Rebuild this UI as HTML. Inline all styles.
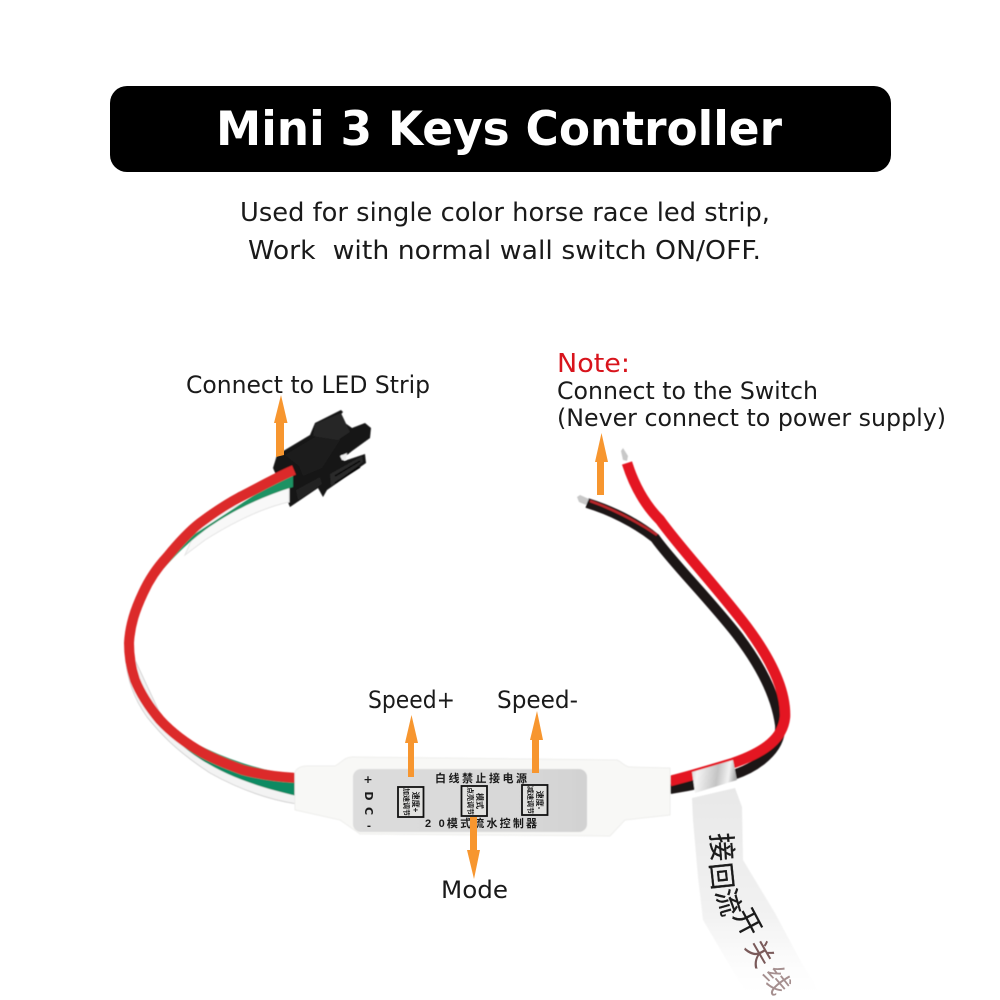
<!DOCTYPE html>
<html><head><meta charset="utf-8"><style>
html,body{margin:0;padding:0;background:#fff}
svg{display:block}
text{font-family:"DejaVu Sans","Liberation Sans",sans-serif;fill:#1a1a1a}
.cjk{font-family:"Liberation Sans","Noto Sans CJK SC",sans-serif}
</style></head><body>
<svg width="1000" height="1000" viewBox="0 0 1000 1000" xmlns="http://www.w3.org/2000/svg">
<defs>
<linearGradient id="band" x1="0" y1="0" x2="1" y2="0.1"><stop offset="0" stop-color="#d0d0d0"/><stop offset=".15" stop-color="#f4f4f4"/><stop offset=".6" stop-color="#c4c4c4"/><stop offset=".85" stop-color="#f2f2f2"/><stop offset="1" stop-color="#aaa"/></linearGradient>
<linearGradient id="tag" x1="0" y1="0" x2="0" y2="1"><stop offset="0" stop-color="#e8e8e8"/><stop offset=".6" stop-color="#f2f2f2"/><stop offset=".85" stop-color="#fdfdfd"/><stop offset="1" stop-color="#fff"/></linearGradient>
<linearGradient id="label" x1="0" y1="0" x2="1" y2="0"><stop offset="0" stop-color="#dcdcdc"/><stop offset=".7" stop-color="#d8d8d8"/><stop offset="1" stop-color="#d2d2d2"/></linearGradient>
<filter id="soft" x="-5%" y="-5%" width="110%" height="110%"><feGaussianBlur stdDeviation="0.5"/></filter>
</defs>
<rect width="1000" height="1000" fill="#fff"/>

<rect x="110" y="86" width="781" height="86" rx="17" fill="#000"/>
<text x="216" y="145" font-size="47" font-weight="700" style="fill:#fff" textLength="566" lengthAdjust="spacingAndGlyphs">Mini 3 Keys Controller</text>
<text x="240" y="221" font-size="26" textLength="530" lengthAdjust="spacingAndGlyphs">Used for single color horse race led strip,</text>
<text x="248" y="259" font-size="26" textLength="513" lengthAdjust="spacingAndGlyphs" xml:space="preserve">Work  with normal wall switch ON/OFF.</text>

<text x="186" y="393" font-size="24" textLength="244" lengthAdjust="spacingAndGlyphs">Connect to LED Strip</text>
<text x="557" y="372" font-size="26" style="fill:#d8141c" textLength="73" lengthAdjust="spacingAndGlyphs">Note:</text>
<text x="557" y="399" font-size="24" textLength="261" lengthAdjust="spacingAndGlyphs">Connect to the Switch</text>
<text x="557" y="426" font-size="24" textLength="389" lengthAdjust="spacingAndGlyphs">(Never connect to power supply)</text>
<text x="368" y="708" font-size="24" textLength="87" lengthAdjust="spacingAndGlyphs">Speed+</text>
<text x="497" y="708" font-size="24" textLength="81" lengthAdjust="spacingAndGlyphs">Speed-</text>
<text x="441" y="898" font-size="24" textLength="67" lengthAdjust="spacingAndGlyphs">Mode</text>

<g filter="url(#soft)">
<!-- connector -->
<path d="M277,455 L285,450 L310,435 L315,423 L341,410 L343,412 L338,418 L352,428 L365,423 L371,428 L370,438 L352,451 L347,455 L341,455 L344,461 L365,454 L366,463 L327,490 L323,497 L318,488 L290,507 L273,468 Z" fill="#121212"/>
<path d="M285,455 L310,440 L338,424 L340,440 L322,468 L303,476 L299,466Z" fill="#1f1f1f"/>
<path d="M315,424 L341,413 L350,432 L338,440 L313,436Z" fill="#262626"/>
<path d="M330,474 L362,456 L363,462 L331,486Z" fill="#2b2b2b"/>
<path d="M296,490 L320,477 L322,484 L298,500Z" fill="#232323"/>
<path d="M335,476 L360,461 M335,483 L360,467" stroke="#050505" stroke-width="1.600" fill="none"/>
<path d="M340,456 L347,453 L346,460 L342,460Z" fill="#f0f0f0"/>

<!-- left wires -->
<path d="M125,650 C126,680 135,700 147,717 C160,733 175,750 210,773 C235,787 265,799 297,804 L297,790 L170,735 L135,660Z" fill="#f3f3f3" stroke="#d4d4d4" stroke-width="1"/>
<path d="M289,485 L289,502 C262,508 232,523 205,540 L185,555 L200,520Z" fill="#f8f8f8" stroke="#e4e4e4" stroke-width="1"/>
<path d="M293,487 C260,497 230,512 205,530 C185,545 170,560 150,585 L170,550 L293,470Z" fill="#1c9263"/>
<path d="M160,722 C185,755 225,780 297,796 L297,775 C250,770 200,750 160,722Z" fill="#108a62"/>
<path d="M294,470 C275,478 258,488 240,497 C225,505 212,514 200,523 C187,533 176,546 167,557 C155,570 148,582 143,593 C135,610 130,625 129,643 C129,655 131,668 135,680 C141,695 150,708 160,720 C172,733 187,744 203,753 C216,760 229,765 243,770 C258,774 275,777 297,778" fill="none" stroke="#dc2b2b" stroke-width="10"/>

<!-- right wires -->
<path d="M587,503 C610,510 635,522 655,538 C672,562 710,600 738,636 C760,665 776,695 780,725 C782,750 755,768 733,775 C710,782 690,786 670,789" fill="none" stroke="#1c1416" stroke-width="10"/>
<path d="M590,501 C610,508 635,520 657,535" stroke="#b8262c" stroke-width="2.500" fill="none"/>
<path d="M627,463 C634,485 645,505 660,520 C680,548 715,585 747,627 C770,658 786,690 785,717 C783,738 765,752 733,763 C710,770 690,776 670,781" fill="none" stroke="#e41820" stroke-width="10.500"/>
<path d="M577,497 L580,495 L589,499 L586,505 L579,502Z" fill="#c8c8c8"/>
<path d="M621,451 L623,448 L628,456 L627,461 L623,460Z" fill="#c8c8c8"/>

<!-- tag -->
<path d="M692,798 L735,788 L742,807 L743,860 L775,913 L800,960 L825,1000 L750,1000 L703,920 L698,877 L693,820Z" fill="url(#tag)"/>
<!-- metal band -->
<path d="M692,772 L733,760 L737,780 L695,793Z" fill="url(#band)"/>

<!-- controller body -->
<path d="M295,772 Q298,766 307,766 L335,766 C342,762 345,757 352,757 L617,760 C622,762 625,767 630,767 L670,768 L670,815 L625,820 L610,836 L360,834 L340,820 L295,810Z" fill="#f8f8f6" stroke="#eeeeec" stroke-width="1"/>
<rect x="353" y="769" width="234" height="63" rx="8" fill="url(#label)"/>
</g>

<g>
<text class="cjk" x="481" y="782" font-size="11" font-weight="700" text-anchor="middle" textLength="92">白线禁止接电源</text>
<text class="cjk" x="481" y="827" font-size="11" font-weight="700" text-anchor="middle" textLength="112">2 0模式流水控制器</text>
<text x="368" y="783" font-size="11" font-weight="700" text-anchor="middle">+</text>
<text x="369" y="796" font-size="11" font-weight="700" text-anchor="middle" transform="rotate(90 369 796)" dy="4">D</text>
<text x="369" y="811" font-size="11" font-weight="700" text-anchor="middle" transform="rotate(90 369 811)" dy="4">C</text>
<text x="369" y="829" font-size="10" font-weight="700" text-anchor="middle">-</text>
</g>
<g fill="#e2e2e0" stroke="#111" stroke-width="1.800">
<rect x="398" y="787" width="25.500" height="30"/>
<rect x="461.500" y="786" width="25.500" height="30"/>
<rect x="522" y="785" width="25.500" height="30"/>
</g>
<g>
<text class="cjk" transform="translate(413,802) rotate(90)" text-anchor="middle" font-size="8" font-weight="700">速度+</text>
<text class="cjk" transform="translate(404,802) rotate(90)" text-anchor="middle" font-size="7" font-weight="700">加速调节</text>
<text class="cjk" transform="translate(477,801) rotate(90)" text-anchor="middle" font-size="8" font-weight="700">模式</text>
<text class="cjk" transform="translate(468,801) rotate(90)" text-anchor="middle" font-size="7" font-weight="700">点亮调节</text>
<text class="cjk" transform="translate(537,800) rotate(90)" text-anchor="middle" font-size="8" font-weight="700">速度-</text>
<text class="cjk" transform="translate(528,800) rotate(90)" text-anchor="middle" font-size="7" font-weight="700">减速调节</text>
</g>

<!-- tag text -->
<g stroke="#1a1a1a" stroke-width=".3">
<text class="cjk" transform="translate(722,847) rotate(86)" text-anchor="middle" dy="10" font-size="28">接</text>
<text class="cjk" transform="translate(722,876) rotate(84)" text-anchor="middle" dy="10" font-size="27">回</text>
<text class="cjk" transform="translate(729,902) rotate(74)" text-anchor="middle" dy="10" font-size="27">流</text>
<text class="cjk" transform="translate(748,922) rotate(62)" text-anchor="middle" dy="10" font-size="27">开</text>
</g>
<text class="cjk" transform="translate(760,953) rotate(60)" text-anchor="middle" dy="10" font-size="27" style="fill:#7a5a5a">关</text>
<text class="cjk" transform="translate(777,980) rotate(60)" text-anchor="middle" dy="10" font-size="27" style="fill:#a58f8f">线</text>

<!-- arrows -->
<g fill="#f7962f">
<path d="M281,395 L287.500,423 L284,423 L284,455 L276,457 L276,423 L274,423Z"/>
<path d="M601.500,433 L608,462 L604,462 L604,495 L597,495 L597,462 L595,462Z"/>
<path d="M411.500,715 L418,743 L414,743 L414,777 L408,777 L408,743 L405,743Z"/>
<path d="M537,711 L543,740 L539,740 L539,773 L532,773 L532,740 L530,740Z"/>
<path d="M470,817 L477,817 L477,850 L480,850 L474,879 L467,850 L470,850Z"/>
</g>
</svg>
</body></html>
